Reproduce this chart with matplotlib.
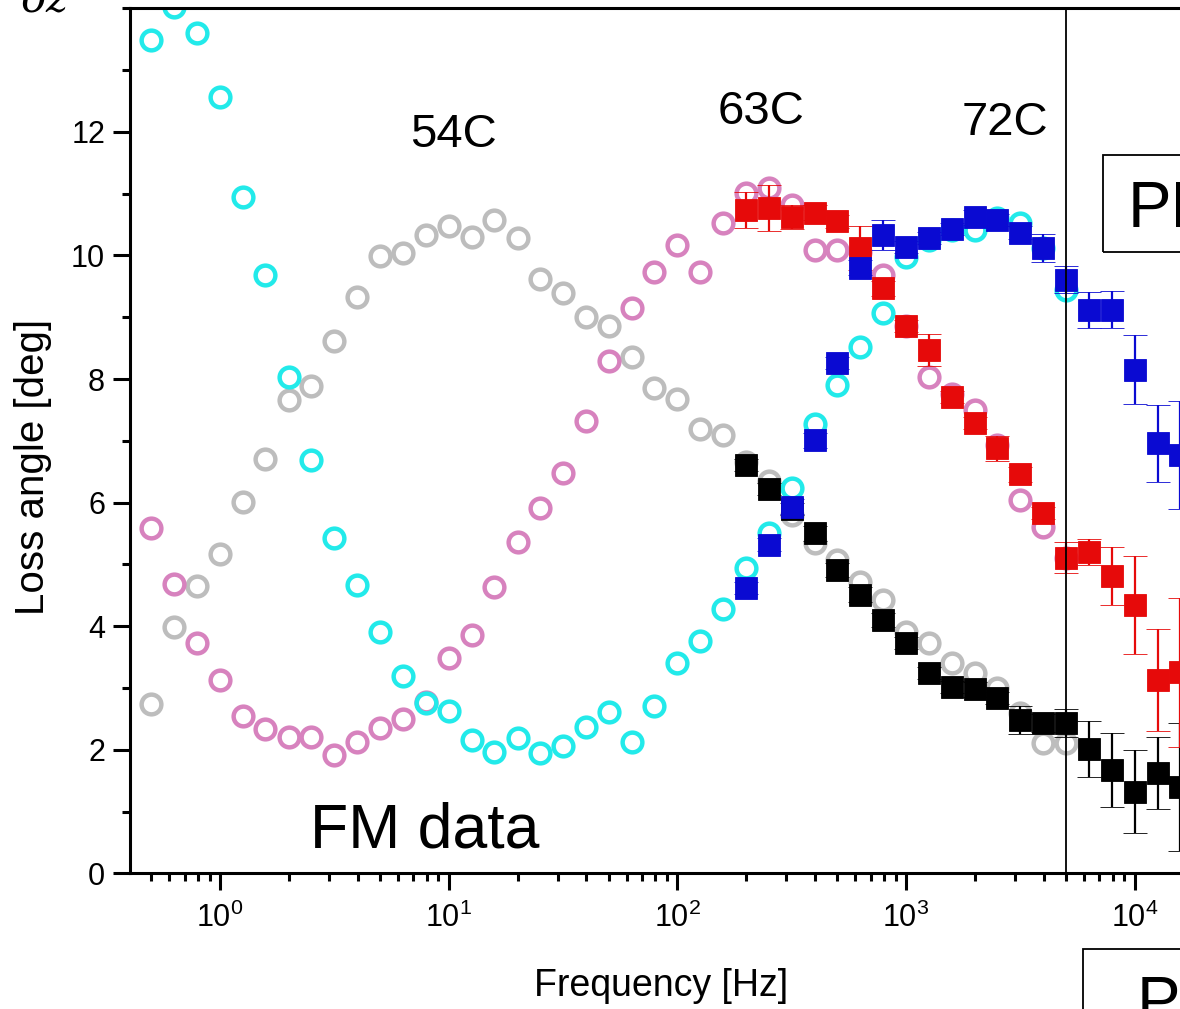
import matplotlib
matplotlib.use("Agg")
import matplotlib.pyplot as plt
from matplotlib.patches import Rectangle
from matplotlib.ticker import LogLocator, MultipleLocator, NullFormatter

plt.rcParams['font.family'] = ['Liberation Sans', 'DejaVu Sans']
plt.rcParams['mathtext.fontset'] = 'custom'
plt.rcParams['mathtext.rm'] = 'Liberation Sans'
plt.rcParams['mathtext.it'] = 'Liberation Sans:italic'
plt.rcParams['mathtext.bf'] = 'Liberation Sans:bold'

# FM data (open circles)
freq_fm = [0.5, 0.63, 0.79, 1.0, 1.26, 1.58, 2.0, 2.51, 3.16, 3.98, 5.01, 6.31, 7.94,
           10, 12.6, 15.8, 20.0, 25.1, 31.6, 39.8, 50.1, 63.1, 79.4,
           100, 126, 158, 200, 251, 316, 398, 501, 631, 794,
           1000, 1259, 1585, 1995, 2512, 3162, 3981, 5012]
fm_54 = [2.74, 3.99, 4.65, 5.17, 6.01, 6.71, 7.66, 7.89, 8.61, 9.33, 9.99, 10.04, 10.33,
         10.47, 10.30, 10.58, 10.28, 9.62, 9.40, 9.00, 8.86, 8.36, 7.86,
         7.68, 7.19, 7.09, 6.65, 6.35, 5.80, 5.35, 5.07, 4.72, 4.43,
         3.91, 3.73, 3.40, 3.24, 3.00, 2.60, 2.11, 2.11]
fm_63 = [5.59, 4.69, 3.73, 3.13, 2.55, 2.33, 2.21, 2.21, 1.92, 2.13, 2.35, 2.50, 2.78,
         3.48, 3.86, 4.64, 5.37, 5.91, 6.48, 7.32, 8.29, 9.15, 9.74,
         10.17, 9.74, 10.53, 11.01, 11.09, 10.82, 10.09, 10.09, 10.05, 9.69,
         8.85, 8.04, 7.75, 7.50, 6.93, 6.04, 5.61, 5.10]
fm_72 = [13.49, 14.02, 13.60, 12.57, 10.95, 9.69, 8.04, 6.69, 5.43, 4.67, 3.91, 3.19, 2.75,
         2.63, 2.16, 1.97, 2.19, 1.95, 2.06, 2.37, 2.61, 2.13, 2.71,
         3.40, 3.76, 4.28, 4.94, 5.51, 6.23, 7.27, 7.90, 8.52, 9.07,
         9.98, 10.25, 10.41, 10.41, 10.60, 10.53, 10.12, 9.44]

# PM data (filled squares with error bars)
freq_pm = [200, 251, 316, 398, 501, 631, 794, 1000, 1259, 1585,
           1995, 2512, 3162, 3981, 5012, 6310, 7943, 10000, 12589, 15849]
pm_54 = [6.61, 6.22, 5.90, 5.50, 4.91, 4.51, 4.10, 3.73, 3.24, 3.02,
         2.98, 2.84, 2.48, 2.43, 2.43, 2.01, 1.67, 1.32, 1.62, 1.40]
pm_54_err = [0.1, 0.1, 0.1, 0.12, 0.12, 0.12, 0.12, 0.1, 0.1, 0.1,
             0.12, 0.1, 0.22, 0.15, 0.23, 0.45, 0.6, 0.67, 0.58, 1.04]
pm_63 = [10.74, 10.77, 10.62, 10.69, 10.55, 10.12, 9.47, 8.86, 8.47, 7.71,
         7.29, 6.88, 6.46, 5.83, 5.11, 5.20, 4.81, 4.34, 3.13, 3.25]
pm_63_err = [0.29, 0.37, 0.2, 0.12, 0.1, 0.35, 0.12, 0.1, 0.26, 0.1,
             0.1, 0.2, 0.12, 0.1, 0.25, 0.21, 0.47, 0.79, 0.83, 1.2]
pm_72 = [4.62, 5.32, 5.93, 7.01, 8.26, 9.80, 10.33, 10.14, 10.28, 10.43,
         10.62, 10.57, 10.37, 10.12, 9.61, 9.12, 9.12, 8.15, 6.96, 6.77]
pm_72_err = [0.1, 0.1, 0.12, 0.12, 0.1, 0.12, 0.24, 0.1, 0.1, 0.1,
             0.12, 0.1, 0.1, 0.23, 0.22, 0.29, 0.3, 0.56, 0.62, 0.88]

W, H = 1180, 1009
fig = plt.figure(figsize=(W / 100, H / 100), dpi=100)
# axes runs past the right edge of the picture (cropped original)
ax = fig.add_axes([130 / W, (H - 873.3) / H, 1119 / W, 865 / H])

circ = dict(ls='none', marker='o', ms=14.2, mfc='none', mew=3.2)
ax.plot(freq_fm, fm_54, mec='#bdbdbd', **circ)
ax.plot(freq_fm, fm_63, mec='#d782be', **circ)
ax.plot(freq_fm, fm_72, mec='#22eaea', **circ)

sq = dict(fmt='s', ms=15.5, capsize=8.5, elinewidth=1.6, capthick=1.8, mew=0.6)
ax.errorbar(freq_pm, pm_54, yerr=pm_54_err, color='black', **sq)
ax.errorbar(freq_pm, pm_63, yerr=pm_63_err, color='#e60a0a', **sq)
ax.errorbar(freq_pm, pm_72, yerr=pm_72_err, color='#0a0ad2', **sq)

ax.axvline(5000, color='black', lw=1.3, zorder=10)

ax.set_xscale('log')
ax.set_xlim(0.404, 10 ** 4.5)
ax.set_ylim(0, 14)
ax.set_yticks([0, 2, 4, 6, 8, 10, 12])
ax.yaxis.set_minor_locator(MultipleLocator(1))
ax.xaxis.set_major_locator(LogLocator(base=10))
ax.xaxis.set_minor_locator(LogLocator(base=10, subs=range(2, 10)))
ax.xaxis.set_minor_formatter(NullFormatter())

for s in ax.spines.values():
    s.set_linewidth(2.2)
ax.tick_params(which='major', direction='out', length=12, width=2.2, labelsize=22, pad=6)
ax.tick_params(which='minor', direction='out', length=6, width=2.2)
ax.tick_params(axis='x', which='major', pad=9)

ax.set_xlabel('Frequency [Hz]', fontsize=27)
ax.set_ylabel('Loss angle [deg]', fontsize=29)
ax.xaxis.set_label_coords(0.4745, -0.11)
ax.yaxis.set_label_coords(-0.07, 0.47)

ax.text(2.475, 0.41, 'FM data', fontsize=45, ha='left', va='baseline')
ax.text(6.77, 11.75, '54C', fontsize=34, ha='left', va='baseline')
ax.text(150.6, 12.13, '63C', fontsize=34, ha='left', va='baseline')
ax.text(1755, 11.95, '72C', fontsize=34, ha='left', va='baseline')

# boxed labels cut by the picture edge
fig.patches.append(Rectangle((1103 / W, 1 - 252 / H), 200 / W, 97 / H, fill=False,
                             lw=1.3, ec='black', transform=fig.transFigure, figure=fig))
fig.text(1128 / W, 1 - 227 / H, 'PM', fontsize=47, ha='left', va='baseline')
fig.patches.append(Rectangle((1083 / W, 1 - 1100 / H), 200 / W, 151 / H, fill=False,
                             lw=1.3, ec='black', transform=fig.transFigure, figure=fig))
fig.text(1137 / W, 1 - 1022 / H, 'P', fontsize=47, ha='left', va='baseline')

# panel tag cut by the top edge
fig.text(22 / W, 1 - 11 / H, 'δz', fontsize=30, family='DejaVu Serif',
         style='italic', ha='left', va='baseline')

fig.savefig('out.png', dpi=100)
